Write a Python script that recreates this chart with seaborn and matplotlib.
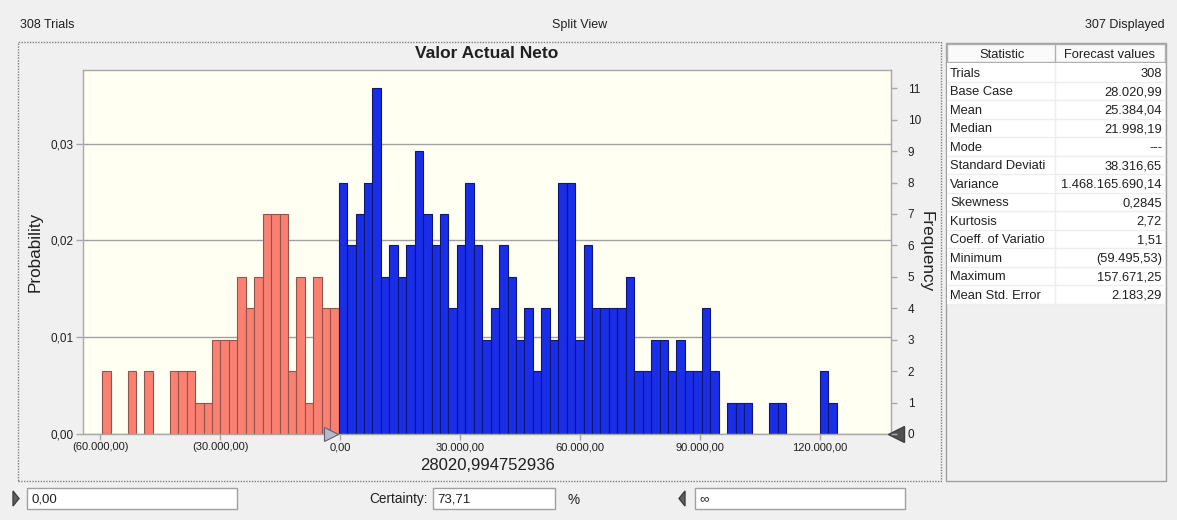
import matplotlib
matplotlib.use("Agg")
import numpy as np
import pandas as pd
import matplotlib.pyplot as plt
import seaborn as sns
from matplotlib.patches import Rectangle, Polygon

# Forecast data
trials = 308
displayed = 307
base_case = "28020,994752936"
certainty = "73,71"
bin_start = -59495.53
bin_width = 2111.0
certainty_low = 0.0

# frequency per bin, left to right
freq_counts = [
    2, 0, 0, 2, 0, 2, 0, 0, 2, 2, 2, 1, 1, 3, 3, 3, 5, 4, 5, 7, 7, 7, 2, 5, 1, 5, 4, 4,
    8, 6, 7, 8, 11, 5, 6, 5, 6, 9, 7, 6, 7, 4, 6, 8, 6, 3, 4, 6, 5, 3, 4,
    2, 4, 3, 8, 8, 3, 6, 4, 4, 4, 4, 5, 2, 2, 3, 3, 2, 3, 2, 2, 4, 2,
    0, 1, 1, 1, 0, 0, 1, 1, 0, 0, 0, 0, 2, 1,
]

x_ticks = [-60000, -30000, 0, 30000, 60000, 90000, 120000]
prob_ticks = [0.0, 0.01, 0.02, 0.03]
freq_ticks = list(range(12))

stat_names = ["Trials", "Base Case", "Mean", "Median", "Mode", "Standard Deviati",
              "Variance", "Skewness", "Kurtosis", "Coeff. of Variatio", "Minimum",
              "Maximum", "Mean Std. Error"]
stat_values = ["308", "28.020,99", "25.384,04", "21.998,19", "---", "38.316,65",
               "1.468.165.690,14", "0,2845", "2,72", "1,51", "(59.495,53)",
               "157.671,25", "2.183,29"]


def eu(v, dec=2):
    s = f"{abs(v):,.{dec}f}".replace(",", "X").replace(".", ",").replace("X", ".")
    return f"({s})" if v < 0 else s


W, H = 1177, 520


def fx(x):
    return x / W


def fy(y):
    return 1 - y / H


sns.set_theme(style="white")
plt.rcParams["font.family"] = ["Liberation Sans", "DejaVu Sans"]

bg = "#F0F0F0"
txt = "#202020"
fig = plt.figure(figsize=(W / 100, H / 100), dpi=100, facecolor=bg)

# histogram data
edges = [bin_start + bin_width * i for i in range(len(freq_counts) + 1)]
centers = [e + bin_width / 2 for e in edges[:-1]]
df = pd.DataFrame({"center": centers, "prob": [c / trials for c in freq_counts]})
n_out = sum(c < certainty_low for c in centers)

ax = fig.add_axes([fx(83), fy(434), fx(891 - 83), (434 - 70) / H])
ax.set_facecolor("#FFFFF2")

sns.histplot(data=df[df.center < certainty_low], x="center", weights="prob",
             bins=edges[:n_out + 1], color="#FA8072", edgecolor="#94544C",
             linewidth=0.8, alpha=1, ax=ax)
sns.histplot(data=df[df.center >= certainty_low], x="center", weights="prob",
             bins=edges[n_out:], color="#1A2EE8", edgecolor="#0E1870",
             linewidth=0.8, alpha=1, ax=ax)
for p in ax.patches:
    if p.get_height() == 0:
        p.set_visible(False)

ymax_freq = 11.58
ax.set_xlim(-64300, 137700)
ax.set_ylim(0, ymax_freq / trials)
ax.set_xticks(x_ticks)
ax.set_xticklabels([eu(v) for v in x_ticks])
ax.set_yticks(prob_ticks)
ax.set_yticklabels([eu(v) for v in prob_ticks])
ax.set_xlabel("")
ax.set_ylabel("")
ax.yaxis.grid(True, color="#A0A0A0", lw=1)
ax.xaxis.grid(False)
ax.set_axisbelow(True)
for s in ax.spines.values():
    s.set_color("#A8A8A8")
    s.set_linewidth(1)
ax.tick_params(axis="x", labelsize=8, colors="#A8A8A8", labelcolor=txt,
               length=4, width=1, pad=2, bottom=True)
ax.tick_params(axis="y", labelsize=8.5, colors="#A8A8A8", labelcolor=txt,
               length=5, width=1, pad=2, left=True)

ax2 = ax.twinx()
ax2.set_ylim(0, ymax_freq)
ax2.set_yticks(freq_ticks)
ax2.tick_params(axis="y", labelsize=8.5, colors="#A8A8A8", labelcolor=txt,
                length=4, width=1, pad=8, right=True)
for s in ax2.spines.values():
    s.set_visible(False)

# certainty grabbers on the axis
ax.plot([certainty_low - 2200], [0], marker=">", ms=10, color="#B8B8C8",
        mec="#606070", mew=0.8, clip_on=False, zorder=5)
ax.plot([1.0065], [0], marker="<", ms=11, color="#505050", mec="#404040",
        transform=ax.transAxes, clip_on=False, zorder=5)

# texts
fig.text(fx(487), fy(54), "Valor Actual Neto", ha="center", va="center",
         fontsize=12.5, fontweight="bold", color=txt)
fig.text(fx(487), fy(465), base_case, ha="center", va="center", fontsize=12, color=txt)
fig.text(fx(35), fy(252), "Probability", ha="center", va="center", rotation=90,
         fontsize=12.3, color=txt)
fig.text(fx(926), fy(252), "Frequency", ha="center", va="center", rotation=270,
         fontsize=12.3, color=txt)
fig.text(fx(20), fy(25), f"{trials} Trials", ha="left", va="center", fontsize=9, color=txt)
fig.text(fx(580), fy(25), "Split View", ha="center", va="center", fontsize=9, color=txt)
fig.text(fx(1165), fy(25), f"{displayed} Displayed", ha="right", va="center",
         fontsize=9, color=txt)

# dotted chart panel
fig.patches.append(Rectangle((fx(18), fy(481)), fx(941 - 18), (481 - 42) / H,
                             transform=fig.transFigure, fill=False, ec="#808080",
                             lw=1, ls=(0, (1, 1))))

# statistics table
fig.patches.append(Rectangle((fx(946), fy(481)), fx(1166 - 946), (481 - 43) / H,
                             transform=fig.transFigure, fc=bg, ec="#A0A0A0", lw=1))
fig.patches.append(Rectangle((fx(947), fy(62)), fx(1165 - 947), (62 - 44) / H,
                             transform=fig.transFigure, fc="#FAFAFA", ec="#B0B0B0", lw=1))
fig.add_artist(plt.Line2D([fx(1055), fx(1055)], [fy(62), fy(44)],
                          transform=fig.transFigure, color="#B0B0B0", lw=1))
fig.text(fx(1002), fy(54.5), "Statistic", ha="center", va="center", fontsize=9.3, color=txt)
fig.text(fx(1110), fy(54.5), "Forecast values", ha="center", va="center", fontsize=9.3,
         color=txt)
row_h = 18.5
fig.patches.append(Rectangle((fx(947), fy(63 + row_h * len(stat_names))), fx(1165 - 947),
                             row_h * len(stat_names) / H, transform=fig.transFigure,
                             fc="white", ec="none"))
for i, (name, val) in enumerate(zip(stat_names, stat_values)):
    yc = 63 + row_h * (i + 0.5) + 1.5
    fig.text(fx(950), fy(yc), name, ha="left", va="center", fontsize=9.3, color=txt)
    fig.text(fx(1162), fy(yc), val, ha="right", va="center", fontsize=9.3, color=txt)
    fig.add_artist(plt.Line2D([fx(947), fx(1165)], [fy(63 + row_h * (i + 1))] * 2,
                              transform=fig.transFigure, color="#EEEEEE", lw=1))
fig.add_artist(plt.Line2D([fx(1055), fx(1055)], [fy(63), fy(63 + row_h * len(stat_names))],
                          transform=fig.transFigure, color="#EEEEEE", lw=1))

# bottom certainty controls
for x0, x1, label in [(27, 237, eu(certainty_low)), (433, 555, certainty), (695, 905, "∞")]:
    fig.patches.append(Rectangle((fx(x0), fy(509)), fx(x1 - x0), 21 / H,
                                 transform=fig.transFigure, fc="white", ec="#A0A0A0", lw=1))
    fig.text(fx(x0 + 4), fy(499.5), label, ha="left", va="center", fontsize=9.5, color=txt)
fig.text(fx(428), fy(499.5), "Certainty:", ha="right", va="center", fontsize=9.8, color=txt)
fig.text(fx(567), fy(499.5), "%", ha="left", va="center", fontsize=9.8, color=txt)
fig.patches.append(Polygon([(fx(13), fy(491)), (fx(13), fy(506)), (fx(19), fy(498.5))],
                           closed=True, transform=fig.transFigure, fc="#606060", ec="#404040"))
fig.patches.append(Polygon([(fx(685), fy(491)), (fx(685), fy(506)), (fx(679), fy(498.5))],
                           closed=True, transform=fig.transFigure, fc="#606060", ec="#404040"))

fig.savefig("out.png", dpi=100, facecolor=bg)
